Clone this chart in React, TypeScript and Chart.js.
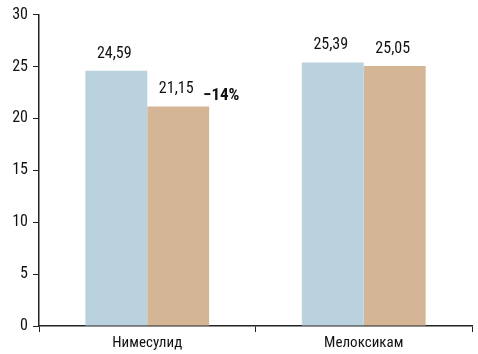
import React, { useEffect, useRef } from "react";
import { Chart, registerables } from "chart.js";

Chart.register(...registerables);

const categories = ["Нимесулид", "Мелоксикам"];
const seriesA = [24.59, 25.39];
const seriesB = [21.15, 25.05];
const yTicks = [0, 5, 10, 15, 20, 25, 30];
const annotationText = "−14%";

const FONT = "'Liberation Sans Narrow', 'Roboto Condensed', 'Arial Narrow', sans-serif";

const labelPlugin = {
  id: "valueLabels",
  afterDatasetsDraw(chart: any) {
    const ctx = chart.ctx;
    ctx.save();
    ctx.fillStyle = "#111";
    ctx.textAlign = "center";
    ctx.textBaseline = "bottom";
    ctx.font = `16px ${FONT}`;
    chart.data.datasets.forEach((ds: any, di: number) => {
      const meta = chart.getDatasetMeta(di);
      meta.data.forEach((bar: any, i: number) => {
        const v = ds.data[i];
        ctx.fillText(v.toFixed(2).replace(".", ","), bar.x - 2, bar.y - 9);
      });
    });
    const b = chart.getDatasetMeta(1).data[0];
    ctx.font = `bold 17px ${FONT}`;
    ctx.textAlign = "left";
    ctx.fillText(annotationText, b.x + b.width / 2 - 6, b.y - 2);
    ctx.restore();
  },
};

export default function App() {
  const ref = useRef<HTMLCanvasElement>(null);
  useEffect(() => {
    document.body.style.margin = "0";
    const chart = new Chart(ref.current!, {
      type: "bar",
      data: {
        labels: categories,
        datasets: [
          { data: seriesA, backgroundColor: "#b9d2dd", barPercentage: 1, categoryPercentage: 0.572 },
          { data: seriesB, backgroundColor: "#d4b595", barPercentage: 1, categoryPercentage: 0.572 },
        ],
      },
      options: {
        animation: false,
        responsive: false,
        maintainAspectRatio: false,
        layout: { padding: { top: 13, right: 6, left: 0, bottom: 0 } },
        plugins: { legend: { display: false }, tooltip: { enabled: false } },
        scales: {
          x: {
            grid: { display: true, drawOnChartArea: false, tickLength: 6, color: "#222", offset: true },
            border: { color: "#222", width: 1.5 },
            ticks: { color: "#111", font: { family: FONT, size: 15 }, padding: 2 },
            afterFit: (s: any) => { s.height = 28; },
          },
          y: {
            min: 0,
            max: 30,
            afterBuildTicks: (s: any) => { s.ticks = yTicks.map((v) => ({ value: v })); },
            grid: { display: true, drawOnChartArea: false, tickLength: 6, color: "#222" },
            border: { color: "#222", width: 1.5 },
            ticks: { color: "#111", font: { family: FONT, size: 16 }, padding: 5 },
            afterFit: (s: any) => { s.width = 39; },
          },
        },
      },
      plugins: [labelPlugin],
    });
    return () => chart.destroy();
  }, []);
  return <canvas ref={ref} width={478} height={354} style={{ display: "block" }} />;
}
